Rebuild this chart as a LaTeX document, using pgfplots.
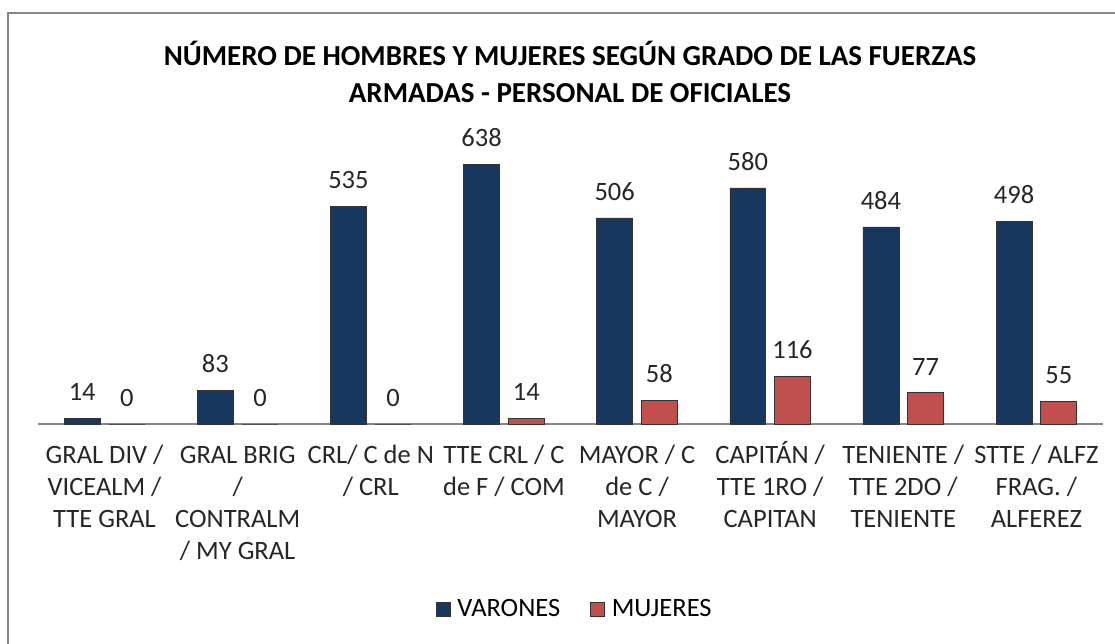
\documentclass[border=0pt]{standalone}
\usepackage{pgfplots}
\pgfplotsset{compat=1.18}
\usepackage{fontspec}
\setmainfont{Carlito}
\definecolor{navy}{HTML}{17375E}
\definecolor{redb}{HTML}{C0504D}
\definecolor{frame}{HTML}{868686}
\begin{document}
\begin{tikzpicture}[x=1pt,y=1pt]
\path[use as bounding box] (0,0) rectangle (1115,644);
\draw[frame, line width=2pt] (8,-2) -- (8,631) -- (1117,631);
\node[align=center, font=\fontsize{29}{37}\selectfont\bfseries] at (570,572.5)
  {NÚMERO DE HOMBRES Y MUJERES SEGÚN GRADO DE LAS FUERZAS\\ARMADAS - PERSONAL DE OFICIALES};
\begin{axis}[
  at={(38pt,220pt)}, anchor=south west,
  scale only axis, width=1065pt, height=285pt,
  xmin=-0.5, xmax=7.5, ymin=0, ymax=700,
  axis y line=none,
  axis x line*=bottom,
  x axis line style={-, draw=frame, line width=1.5pt},
  ybar, bar width=0.27,
  xtick={0,...,7}, major tick length=0pt,
  xticklabels={{\vphantom{Á}GRAL DIV /\\VICEALM /\\TTE GRAL},{\vphantom{Á}GRAL BRIG\\/\\CONTRALM\\/ MY GRAL},{\vphantom{Á}CRL/ C de N\\/ CRL},{\vphantom{Á}TTE CRL / C\\de F / COM},{\vphantom{Á}MAYOR / C\\de C /\\MAYOR},{\vphantom{Á}CAPITÁN /\\TTE 1RO /\\CAPITAN},{\vphantom{Á}TENIENTE /\\TTE 2DO /\\TENIENTE},{\vphantom{Á}STTE / ALFZ\\FRAG. /\\ALFEREZ}},
  xticklabel style={align=center, font=\fontsize{26.5}{32}\selectfont, anchor=north, yshift=-14pt, text=black!85},
  /pgf/number format/assume math mode=true,
  nodes near coords,
  every node near coord/.append style={font=\fontsize{26.5}{30}\selectfont, text=black!85, yshift=14pt},
  clip=false,
  legend style={at={(0.504,-0.649)}, anchor=center, draw=none, font=\fontsize{26.5}{30}\selectfont, legend columns=2,
    /tikz/every even column/.append style={column sep=28pt},
    /tikz/every odd column/.append style={column sep=5pt}},
  legend image code/.code={\draw[#1, draw=black!80, line width=0.6pt] (0pt,-7pt) rectangle (14pt,7pt);},
]
\addplot[fill=navy, draw=black!80, line width=0.6pt, bar shift=-0.168] coordinates {(0,14) (1,83) (2,535) (3,638) (4,506) (5,580) (6,484) (7,498)};
\addplot[fill=redb, draw=black!80, line width=0.6pt, bar shift=0.168] coordinates {(0,0) (1,0) (2,0) (3,14) (4,58) (5,116) (6,77) (7,55)};
\legend{VARONES, MUJERES}
\end{axis}
\end{tikzpicture}
\end{document}
